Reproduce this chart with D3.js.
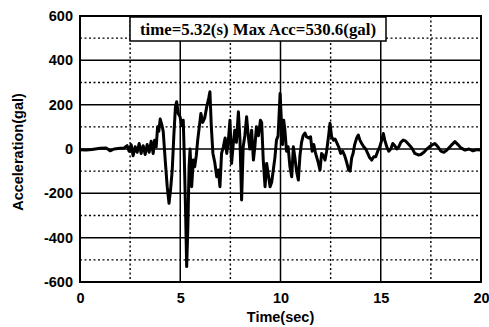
<!DOCTYPE html>
<html><head><meta charset="utf-8">
<script src="https://cdn.jsdelivr.net/npm/d3@7"></script>
<style>html,body{margin:0;padding:0;background:#fff}</style>
</head><body>
<svg id="c" width="489" height="327"></svg>
<script>
const times = [0.0,0.3,0.6,1.0,1.3,1.5,1.7,2.0,2.2,2.35,2.45,2.55,2.65,2.75,2.85,2.95,3.05,3.15,3.25,3.35,3.45,3.55,3.65,3.72,3.8,3.87,3.93,4.0,4.08,4.15,4.25,4.35,4.44,4.52,4.6,4.68,4.76,4.82,4.9,4.99,5.07,5.15,5.2,5.27,5.32,5.38,5.44,5.49,5.57,5.65,5.72,5.8,5.87,5.95,6.03,6.12,6.22,6.32,6.42,6.48,6.55,6.63,6.72,6.82,6.9,6.98,7.06,7.15,7.24,7.32,7.4,7.48,7.56,7.64,7.72,7.8,7.9,7.98,8.06,8.14,8.22,8.31,8.39,8.47,8.56,8.65,8.72,8.8,8.9,9.0,9.06,9.14,9.23,9.31,9.4,9.48,9.56,9.64,9.72,9.8,9.88,9.98,10.05,10.1,10.16,10.22,10.3,10.38,10.47,10.56,10.64,10.72,10.8,10.89,10.97,11.05,11.13,11.22,11.3,11.4,11.5,11.58,11.66,11.75,11.88,11.97,12.05,12.14,12.22,12.3,12.4,12.47,12.55,12.64,12.72,12.8,12.9,13.0,13.1,13.2,13.3,13.4,13.47,13.55,13.62,13.7,13.8,13.88,13.96,14.05,14.15,14.25,14.35,14.45,14.55,14.65,14.75,14.85,14.95,15.05,15.13,15.2,15.3,15.4,15.5,15.6,15.7,15.8,15.9,16.0,16.12,16.25,16.4,16.55,16.7,16.87,17.0,17.15,17.3,17.5,17.7,17.85,18.0,18.15,18.3,18.5,18.7,18.85,19.0,19.2,19.4,19.6,19.8,20.0];
const accel = [-3,-5,-2,3,5,-8,0,3,5,15,-10,20,-30,10,-15,25,-20,15,-25,20,-15,35,-20,40,10,100,80,135,110,80,-50,-170,-245,-180,-95,60,190,213,160,146,105,130,-30,-300,-530.6,-350,-80,0,-170,-50,-80,-30,40,100,160,120,140,190,230,258,100,-20,-60,-125,-95,-170,-20,10,50,-20,40,130,-65,20,85,30,168,40,-230,10,60,145,60,0,85,-50,10,100,60,130,120,-50,-170,-65,-120,-170,-150,-95,-40,40,60,250,117,20,130,85,-10,10,-80,-125,10,-40,-100,-140,-30,30,60,72,55,50,55,-10,20,-20,-60,-95,-20,-30,-50,-10,60,116,55,40,45,30,10,-20,-10,-30,-60,-95,-100,-40,-20,20,50,63,40,25,10,0,-20,-40,-50,-35,-35,-10,10,40,70,40,10,-10,0,25,15,0,10,30,40,35,20,5,-20,-27,-25,-15,0,15,25,10,-10,-15,-5,15,33,20,5,-5,0,-8,-3,-5];
const xTicks = [0,5,10,15,20];
const yTicks = [-600,-400,-200,0,200,400,600];
const xMinor = [2.5,7.5,12.5,17.5];
const yMinor = [-500,-300,-100,100,300,500];
const xLabel = "Time(sec)";
const yLabel = "Acceleration(gal)";
const note = "time=5.32(s) Max Acc=530.6(gal)";

const svg = d3.select("#c");
const L=80, R=481, T=16, B=282;
const x = d3.scaleLinear().domain([0,20]).range([L,R]);
const y = d3.scaleLinear().domain([-600,600]).range([B,T]);
const font = "'Liberation Sans', Arial, sans-serif";

// grid
const g = svg.append("g");
g.selectAll(".ym").data(yMinor).join("line")
  .attr("x1",L).attr("x2",R).attr("y1",d=>y(d)).attr("y2",d=>y(d))
  .attr("stroke","#000").attr("stroke-width",1.4).attr("stroke-dasharray","2,2.5");
g.selectAll(".xm").data(xMinor).join("line")
  .attr("y1",T).attr("y2",B).attr("x1",d=>x(d)).attr("x2",d=>x(d))
  .attr("stroke","#000").attr("stroke-width",1.4).attr("stroke-dasharray","2,2.5");
g.selectAll(".yM").data(yTicks.slice(1,-1)).join("line")
  .attr("x1",L).attr("x2",R).attr("y1",d=>y(d)).attr("y2",d=>y(d))
  .attr("stroke","#000").attr("stroke-width",1.5);
g.selectAll(".xM").data(xTicks.slice(1,-1)).join("line")
  .attr("y1",T).attr("y2",B).attr("x1",d=>x(d)).attr("x2",d=>x(d))
  .attr("stroke","#000").attr("stroke-width",1.5);

// data line
const data = times.map((t,i)=>[t,accel[i]]);
svg.append("path").datum(data)
  .attr("d", d3.line().x(d=>x(d[0])).y(d=>y(d[1])))
  .attr("fill","none").attr("stroke","#000").attr("stroke-width",3)
  .attr("stroke-linejoin","round");

// frame
svg.append("rect").attr("x",L).attr("y",T).attr("width",R-L).attr("height",B-T)
  .attr("fill","none").attr("stroke","#000").attr("stroke-width",2);

// axes
const xa = svg.append("g").attr("transform",`translate(0,${B})`)
  .call(d3.axisBottom(x).tickValues(xTicks).tickSize(0).tickPadding(11).tickFormat(d3.format("d")));
const ya = svg.append("g").attr("transform",`translate(${L},0)`)
  .call(d3.axisLeft(y).tickValues(yTicks).tickSize(0).tickPadding(7).tickFormat(d=>d<0?"-"+Math.abs(d):d));
[xa,ya].forEach(a=>{a.select(".domain").remove();
  a.selectAll("text").attr("font-family",font).attr("font-size",14.5).attr("font-weight","bold").attr("fill","#000");});

svg.append("text").attr("x",(L+R)/2).attr("y",322).attr("text-anchor","middle")
  .attr("font-family",font).attr("font-size",14.5).attr("font-weight","bold").text(xLabel);
svg.append("text").attr("transform","translate(23,152) rotate(-90)").attr("text-anchor","middle")
  .attr("font-family",font).attr("font-size",14.5).attr("font-weight","bold").text(yLabel);

// annotation
svg.append("rect").attr("x",130).attr("y",17).attr("width",256).attr("height",24)
  .attr("fill","#fff").attr("stroke","#000").attr("stroke-width",1.5);
svg.append("text").attr("x",258).attr("y",34.5).attr("text-anchor","middle")
  .attr("font-family","'Liberation Serif', 'Times New Roman', serif").attr("font-size",16.5).attr("font-weight","bold")
  .attr("textLength",236).attr("lengthAdjust","spacingAndGlyphs").text(note);
</script>
</body></html>
